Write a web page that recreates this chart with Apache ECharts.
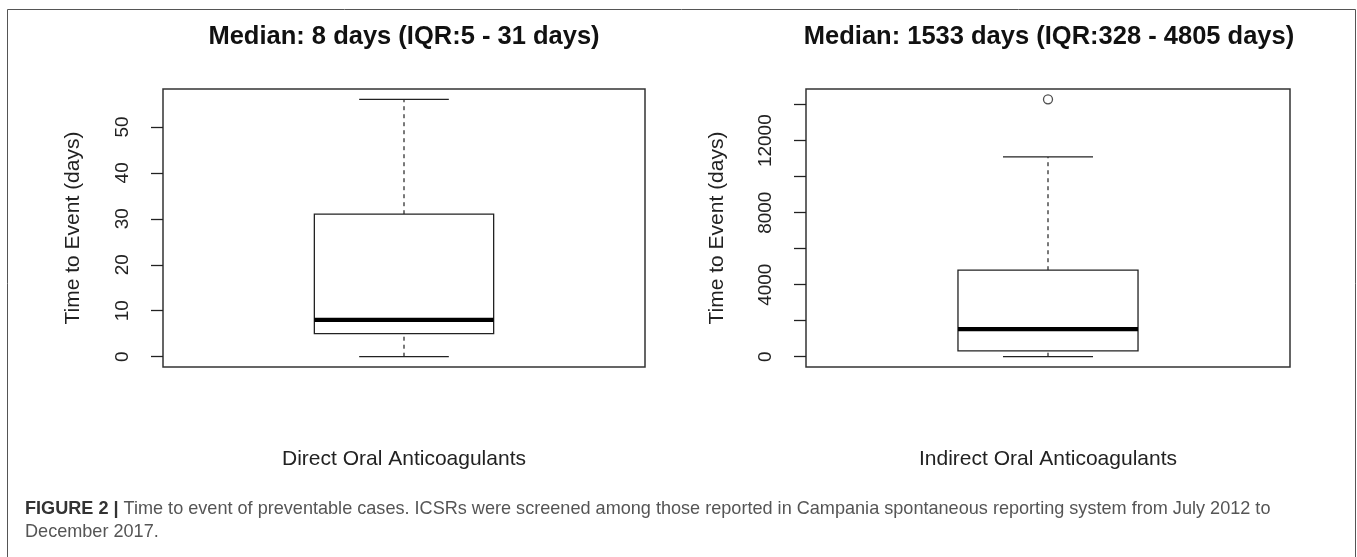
<!DOCTYPE html>
<html>
<head>
<meta charset="utf-8">
<script src="https://cdn.jsdelivr.net/npm/echarts@6/dist/echarts.min.js"></script>
<style>
  html, body { margin: 0; background: #fff; }
  #chart { width: 1357px; height: 557px; }
</style>
</head>
<body>
<div id="chart"></div>
<script>
// box stats: [min whisker, q1, median, q3, max whisker]
var categories = ['Direct Oral Anticoagulants', 'Indirect Oral Anticoagulants'];
var doacStats = [0, 5, 8, 31, 56];
var vkaStats = [0, 328, 1533, 4805, 11100];
var vkaOutliers = [14300];
var titles = ['Median: 8 days (IQR:5 - 31 days)', 'Median: 1533 days (IQR:328 - 4805 days)'];
var doacTicks = [0, 10, 20, 30, 40, 50];
var vkaTicks = [0, 2000, 4000, 6000, 8000, 10000, 12000, 14000];
var vkaLabels = [0, 4000, 8000, 12000];
// R pads the data range by 4% on each side
var doacRange = [-2.24, 58.24];
var vkaRange = [-572, 14872];

var ink = '#222';
var font = 'Liberation Sans, Arial, Helvetica, sans-serif';

var chart = echarts.init(document.getElementById('chart'));

function renderBox(params, api) {
    var x = api.value(0);
    var pLo = api.coord([x, api.value(1)]);
    var pQ1 = api.coord([x, api.value(2)]);
    var pMed = api.coord([x, api.value(3)]);
    var pQ3 = api.coord([x, api.value(4)]);
    var pHi = api.coord([x, api.value(5)]);
    var half = api.size([1, 0])[0] * 0.186;
    var cap = half / 2;
    var cx = pMed[0];
    var solid = { stroke: ink, lineWidth: 1.3, fill: null };
    var dashed = { stroke: ink, lineWidth: 1.2, lineDash: [4, 4], fill: null };
    return {
        type: 'group',
        children: [
            { type: 'line', shape: { x1: cx, y1: pQ3[1], x2: cx, y2: pHi[1] }, style: dashed },
            { type: 'line', shape: { x1: cx, y1: pLo[1], x2: cx, y2: pQ1[1] }, style: dashed },
            { type: 'line', shape: { x1: cx - cap, y1: pHi[1], x2: cx + cap, y2: pHi[1] }, style: solid },
            { type: 'line', shape: { x1: cx - cap, y1: pLo[1], x2: cx + cap, y2: pLo[1] }, style: solid },
            { type: 'rect', shape: { x: cx - half, y: pQ3[1], width: half * 2, height: pQ1[1] - pQ3[1] },
              style: { fill: '#fff', stroke: ink, lineWidth: 1.3 } },
            { type: 'line', shape: { x1: cx - half, y1: pMed[1], x2: cx + half, y2: pMed[1] },
              style: { stroke: '#000', lineWidth: 4.3 } }
        ]
    };
}

function yAxisFor(range, ticks, labels, gap) {
    return {
        type: 'value',
        min: range[0],
        max: range[1],
        name: 'Time to Event (days)',
        nameLocation: 'middle',
        nameGap: gap,
        nameTextStyle: { fontFamily: font, fontSize: 21, color: ink },
        axisLine: { show: false },
        splitLine: { show: false },
        axisTick: { show: true, length: 12, customValues: ticks, lineStyle: { color: ink, width: 1.3 } },
        axisLabel: {
            customValues: labels, rotate: 90, margin: 31,
            fontFamily: font, fontSize: 19, color: ink,
            formatter: function (v) { return String(v); }
        }
    };
}

function xAxisFor(idx) {
    return {
        type: 'category',
        gridIndex: idx,
        data: [categories[idx]],
        axisLine: { show: false },
        axisTick: { show: false },
        axisLabel: { margin: 82, fontFamily: font, fontSize: 21, color: ink }
    };
}

var caption1 = '{b|FIGURE 2 |} Time to event of preventable cases. ICSRs were screened among those reported in Campania spontaneous reporting system from July 2012 to';
var caption2 = 'December 2017.';

var option = {
    backgroundColor: '#fff',
    animation: false,
    grid: [
        { left: 163, top: 89, width: 482, height: 278, show: true, borderColor: '#333', borderWidth: 1.5 },
        { left: 806, top: 89, width: 484, height: 278, show: true, borderColor: '#333', borderWidth: 1.5 }
    ],
    xAxis: [xAxisFor(0), xAxisFor(1)],
    yAxis: [
        Object.assign(yAxisFor(doacRange, doacTicks, doacTicks, 79), { gridIndex: 0 }),
        Object.assign(yAxisFor(vkaRange, vkaTicks, vkaLabels, 78), { gridIndex: 1 })
    ],
    series: [
        {
            type: 'custom',
            xAxisIndex: 0,
            yAxisIndex: 0,
            renderItem: renderBox,
            encode: { x: 0, y: [1, 2, 3, 4, 5] },
            data: [[0].concat(doacStats)]
        },
        {
            type: 'custom',
            xAxisIndex: 1,
            yAxisIndex: 1,
            renderItem: renderBox,
            encode: { x: 0, y: [1, 2, 3, 4, 5] },
            data: [[0].concat(vkaStats)]
        },
        {
            type: 'scatter',
            xAxisIndex: 1,
            yAxisIndex: 1,
            symbol: 'circle',
            symbolSize: 9,
            itemStyle: { color: 'rgba(0,0,0,0)', borderColor: ink, borderWidth: 1.3 },
            data: vkaOutliers.map(function (v) { return [0, v]; })
        }
    ],
    graphic: [
        {
            type: 'rect',
            shape: { x: 7.5, y: 9.5, width: 1348, height: 600 },
            style: { fill: null, stroke: '#555', lineWidth: 1 },
            silent: true
        },
        {
            type: 'text', x: 404, y: 37,
            style: { text: titles[0], textAlign: 'center', textVerticalAlign: 'middle',
                     font: 'bold 25.5px ' + font, fill: '#111' }
        },
        {
            type: 'text', x: 1049, y: 37,
            style: { text: titles[1], textAlign: 'center', textVerticalAlign: 'middle',
                     font: 'bold 25.5px ' + font, fill: '#111' }
        },
        {
            type: 'text', x: 25, y: 509,
            style: {
                text: caption1, textVerticalAlign: 'middle',
                font: '18.1px ' + font, fill: '#555',
                rich: { b: { fontWeight: 'bold', fontSize: 18.1, fontFamily: font, fill: '#333' } }
            }
        },
        {
            type: 'text', x: 25, y: 532,
            style: { text: caption2, textVerticalAlign: 'middle', font: '18.1px ' + font, fill: '#555' }
        }
    ]
};

chart.setOption(option);
</script>
</body>
</html>
